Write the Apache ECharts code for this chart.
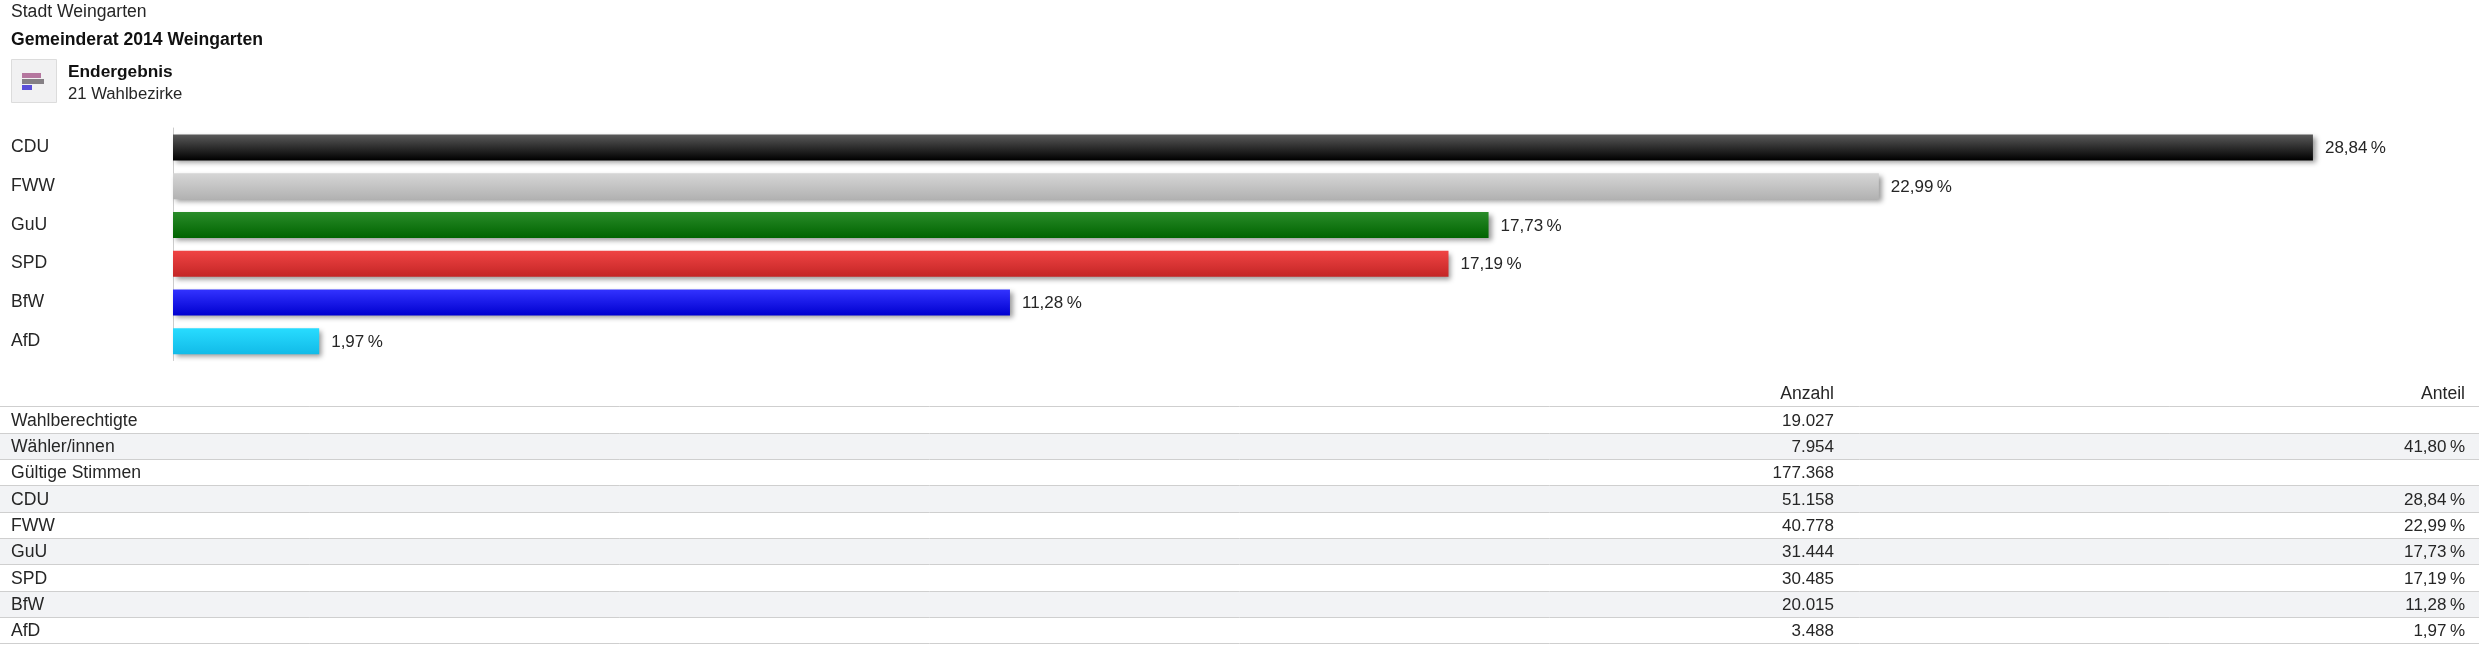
<!DOCTYPE html>
<html><head><meta charset="utf-8">
<style>html,body{margin:0;padding:0;background:#fff}#c{width:2479px;height:665px}</style>
<script src="https://cdn.jsdelivr.net/npm/echarts@6/dist/echarts.min.js"></script>
</head><body><div id="c"></div>
<script>
const parties = ['CDU','FWW','GuU','SPD','BfW','AfD'];
const shares = [28.84,22.99,17.73,17.19,11.28,1.97];
const shareLabels = ['28,84\u202f%','22,99\u202f%','17,73\u202f%','17,19\u202f%','11,28\u202f%','1,97\u202f%'];
const gradTop = ['#5a5a5a','#d6d6d6','#2a8c2a','#f04444','#3333ff','#28dcff'];
const gradBottom = ['#000000','#b2b2b2','#006400','#c42626','#0000d0','#12bbe8'];
const rowNames = ['Wahlberechtigte','Wähler/innen','Gültige Stimmen','CDU','FWW','GuU','SPD','BfW','AfD'];
const rowCounts = ['19.027','7.954','177.368','51.158','40.778','31.444','30.485','20.015','3.488'];
const rowShares = ['','41,80\u202f%','','28,84\u202f%','22,99\u202f%','17,73\u202f%','17,19\u202f%','11,28\u202f%','1,97\u202f%'];
const headers = ['Anzahl','Anteil'];
const titleTop = 'Stadt Weingarten', titleBold = 'Gemeinderat 2014 Weingarten', subBold = 'Endergebnis', subText = '21 Wahlbezirke';

const FONT = '"Liberation Sans", Arial, sans-serif';
const FS = 17.6, FSN = 17, INK = '#262626';
const txt = (x, y, text, o = {}) => ({type:'text', x, y, silent:true, style:Object.assign({
  text, fontFamily:FONT, fontSize:FS, fill:INK, textVerticalAlign:'middle', textAlign:'left'}, o)});
const rect = (x, y, w, h, fill, extra = {}) => ({type:'rect', silent:true, shape:{x,y,width:w,height:h}, style:Object.assign({fill}, extra)});

const g = [];
g.push(txt(11, 12.5, titleTop));
g.push(txt(11, 40.5, titleBold, {fontWeight:'bold', fill:'#111'}));
g.push(rect(11.5, 59.5, 45, 43, '#f1f1f2', {stroke:'#dcdcdc', lineWidth:1}));
g.push(rect(22, 73, 19, 5, '#b5779f'));
g.push(rect(22, 79, 22, 5, '#858085'));
g.push(rect(22, 85, 10, 5, '#5a4fd8'));
g.push(txt(68, 72.5, subBold, {fontWeight:'bold', fontSize:17.3, fill:'#111'}));
g.push(txt(68, 94, subText, {fontSize:16.7}));

const lineY = [406.5,433.5,459.5,485.5,512.5,538.5,564.5,591.5,617.5,643.5];
g.push(txt(1834, 394.5, headers[0], {textAlign:'right'}));
g.push(txt(2465, 394.5, headers[1], {textAlign:'right'}));
rowNames.forEach((name, i) => {
  const y0 = lineY[i], y1 = lineY[i+1], yc = (y0+y1)/2 + 1;
  if (i % 2 === 1) g.push(rect(0, y0, 2479, y1-y0, '#f2f3f5'));
  g.push(txt(11, yc, name));
  g.push(txt(1834, yc, rowCounts[i], {textAlign:'right', fontSize:FSN}));
  if (rowShares[i]) g.push(txt(2465, yc, rowShares[i], {textAlign:'right', fontSize:FSN}));
});
lineY.forEach(y => g.push({type:'line', silent:true, shape:{x1:0,y1:y,x2:2479,y2:y}, style:{stroke:'#cfcfcf', lineWidth:1}}));

const chart = echarts.init(document.getElementById('c'), null, {renderer:'canvas'});
chart.setOption({
  animation:false,
  backgroundColor:'#fff',
  grid:{left:173, top:128, width:2226, height:232.5, containLabel:false},
  xAxis:{type:'value', min:0, max:30, show:false},
  yAxis:{type:'category', inverse:true, data:parties,
    axisLine:{show:true, lineStyle:{color:'#cccccc', width:1}},
    axisTick:{show:false},
    axisLabel:{color:INK, fontFamily:FONT, fontSize:FS, align:'left', margin:162}
  },
  series:[{
    type:'bar', barWidth:26,
    data:shares.map((v,i)=>({value:v,
      label:{formatter:shareLabels[i]},
      itemStyle:{color:new echarts.graphic.LinearGradient(0,0,0,1,[{offset:0,color:gradTop[i]},{offset:1,color:gradBottom[i]}]),
        shadowColor:'rgba(70,70,70,0.55)', shadowBlur:5, shadowOffsetX:3, shadowOffsetY:3}})),
    label:{show:true, position:'right', distance:12, offset:[0,1], color:INK, fontFamily:FONT, fontSize:FSN}
  }],
  graphic:g
});
</script></body></html>
